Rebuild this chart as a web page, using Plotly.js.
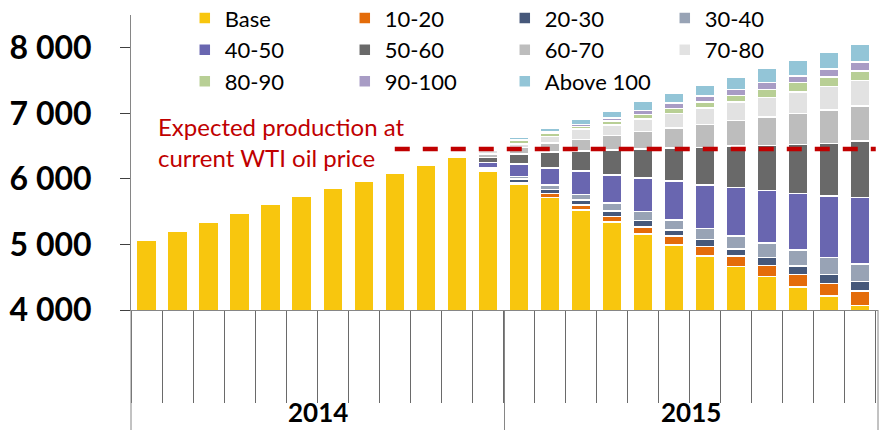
<!DOCTYPE html>
<html>
<head>
<meta charset="utf-8">
<script src="https://cdn.plot.ly/plotly-3.0.1.min.js"></script>
<style>html,body{margin:0;padding:0;background:#fff}</style>
</head>
<body>
<div id="chart" style="width:879px;height:430px"></div>
<script>
// months, Jan 2014 .. Dec 2015
const MONTHS = [
    'Jan 2014', 'Feb 2014', 'Mar 2014', 'Apr 2014', 'May 2014', 'Jun 2014',
    'Jul 2014', 'Aug 2014', 'Sep 2014', 'Oct 2014', 'Nov 2014', 'Dec 2014',
    'Jan 2015', 'Feb 2015', 'Mar 2015', 'Apr 2015', 'May 2015', 'Jun 2015',
    'Jul 2015', 'Aug 2015', 'Sep 2015', 'Oct 2015', 'Nov 2015', 'Dec 2015',
];
const YEARS = ['2014', '2015'];

// production by breakeven price band
const BASE      = [5070, 5200, 5335, 5470, 5610, 5730, 5850, 5970, 6080, 6205, 6335, 6115,
                   5920, 5715, 5525, 5340, 5160, 4995, 4820, 4665, 4510, 4350, 4210, 4070];
const P10_20    = [0, 0, 0, 0, 0, 0, 0, 0, 0, 0, 0, 15,
                   20, 61, 75, 87, 107, 134, 148, 157, 172, 194, 198, 218];
const P20_30    = [0, 0, 0, 0, 0, 0, 0, 0, 0, 0, 0, 20,
                   55, 66, 76, 84, 102, 95, 110, 110, 122, 127, 134, 148];
const P30_40    = [0, 0, 0, 0, 0, 0, 0, 0, 0, 0, 0, 25,
                   45, 66, 88, 119, 130, 152, 169, 195, 217, 242, 262, 262];
const P40_50    = [0, 0, 0, 0, 0, 0, 0, 0, 0, 0, 0, 75,
                   191, 256, 354, 430, 518, 592, 660, 740, 801, 865, 932, 1016];
const P50_60    = [0, 0, 0, 0, 0, 0, 0, 0, 0, 0, 0, 73,
                   149, 246, 305, 378, 438, 506, 572, 634, 686, 749, 807, 862];
const P60_70    = [0, 0, 0, 0, 0, 0, 0, 0, 0, 0, 0, 53,
                   99, 139, 177, 221, 265, 300, 354, 389, 435, 471, 505, 538];
const P70_80    = [0, 0, 0, 0, 0, 0, 0, 0, 0, 0, 0, 61,
                   56, 96, 159, 166, 197, 221, 249, 282, 302, 326, 358, 390];
const P80_90    = [0, 0, 0, 0, 0, 0, 0, 0, 0, 0, 0, 10,
                   53, 55, 44, 59, 66, 81, 91, 102, 120, 143, 152, 142];
const P90_100   = [0, 0, 0, 0, 0, 0, 0, 0, 0, 0, 0, 5,
                   15, 21, 24, 44, 58, 84, 90, 91, 104, 99, 120, 135];
const ABOVE_100 = [0, 0, 0, 0, 0, 0, 0, 0, 0, 0, 0, 5,
                   34, 55, 81, 110, 136, 148, 165, 186, 213, 241, 249, 278];

const EXPECTED = 6455;   // expected production at current WTI price
const EXPECTED_FROM = 8; // category index where the dashed line starts

const SERIES = [
    { name: 'Base',      y: BASE,      color: '#F8C60E' },
    { name: '10-20',     y: P10_20,    color: '#E46C0A' },
    { name: '20-30',     y: P20_30,    color: '#46587A' },
    { name: '30-40',     y: P30_40,    color: '#98A3B5' },
    { name: '40-50',     y: P40_50,    color: '#6966B0' },
    { name: '50-60',     y: P50_60,    color: '#696969' },
    { name: '60-70',     y: P60_70,    color: '#BDBDBD' },
    { name: '70-80',     y: P70_80,    color: '#E2E2E2' },
    { name: '80-90',     y: P80_90,    color: '#B8CF95' },
    { name: '90-100',    y: P90_100,   color: '#A89CC5' },
    { name: 'Above 100', y: ABOVE_100, color: '#93C5D7' },
];

const FONT = 'Lato, "Open Sans", sans-serif';

const traces = SERIES.map(s => ({
    type: 'bar',
    x: MONTHS,
    y: s.y,
    name: s.name,
    marker: { color: s.color, line: { color: '#ffffff', width: 1.5 } },
    hoverinfo: 'skip',
}));

const layout = {
    width: 879,
    height: 430,
    paper_bgcolor: '#ffffff',
    plot_bgcolor: '#ffffff',
    font: { family: FONT, color: '#000000' },
    margin: { l: 131, r: 1, t: 15, b: 120, autoexpand: false },
    barmode: 'stack',
    bargap: 0.36,
    separators: '. ',
    showlegend: true,
    legend: {
        orientation: 'h',
        x: 0.072, xanchor: 'left',
        y: 1.06, yanchor: 'top',
        font: { family: FONT, size: 22, color: '#000000' },
        entrywidth: 115,
        traceorder: 'normal',
        bgcolor: 'rgba(0,0,0,0)',
        itemclick: false,
    },
    xaxis: {
        type: 'category',
        showticklabels: false,
        ticks: 'outside',
        tickson: 'boundaries',
        ticklen: 92,
        tickcolor: '#6a6a6a',
        showline: true,
        linecolor: '#868686',
        linewidth: 1,
        showgrid: false,
        zeroline: false,
        fixedrange: true,
    },
    yaxis: {
        range: [4000, 8500],
        tickvals: [4000, 5000, 6000, 7000, 8000],
        separatethousands: true,
        tickformat: ',d',
        ticks: 'outside',
        ticklen: 10,
        tickcolor: '#404040',
        ticklabelstandoff: 22,
        tickfont: { family: FONT, size: 32, weight: 'bold', color: '#000000' },
        showline: true,
        linecolor: '#868686',
        linewidth: 1,
        showgrid: false,
        zeroline: false,
        fixedrange: true,
    },
    shapes: [
        // expected production line
        {
            type: 'line', xref: 'x', yref: 'y', layer: 'above',
            x0: EXPECTED_FROM, x1: MONTHS.length - 0.5, y0: EXPECTED, y1: EXPECTED,
            line: { color: '#C00000', width: 4.5, dash: '15px,13px' },
        },
        // year dividers under the axis
        ...[0, 0.5, 1].map(x => ({
            type: 'line', xref: 'paper', yref: 'paper',
            x0: x, x1: x, y0: 0, y1: -0.41,
            line: { color: '#868686', width: 1 },
        })),
    ],
    annotations: [
        {
            xref: 'paper', yref: 'paper', x: 0.034, y: 0.57,
            xanchor: 'left', yanchor: 'middle', align: 'left',
            text: 'Expected production at<br>current WTI oil price',
            showarrow: false,
            font: { family: FONT, size: 24, color: '#C00000' },
        },
        ...YEARS.map((yr, i) => ({
            xref: 'paper', yref: 'paper', x: 0.25 + i * 0.5, y: -0.345,
            xanchor: 'center', yanchor: 'middle',
            text: yr, showarrow: false,
            font: { family: FONT, size: 26, weight: 'bold', color: '#000000' },
        })),
    ],
};

Plotly.newPlot('chart', traces, layout, { displayModeBar: false, staticPlot: true });
</script>
</body>
</html>
